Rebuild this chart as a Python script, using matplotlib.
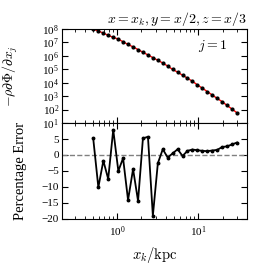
import numpy as np
import matplotlib as mpl
mpl.use('Agg')
from matplotlib import pyplot as plt

mpl.rcParams['font.family'] = 'serif'
mpl.rcParams['font.serif'] = ['Liberation Serif', 'DejaVu Serif']
mpl.rcParams['mathtext.fontset'] = 'cm'

# radius along the line x = x_k (kpc)
x_k = [0.51, 0.59, 0.68, 0.78, 0.90, 1.04, 1.19, 1.37, 1.58, 1.82,
       2.09, 2.41, 2.77, 3.19, 3.67, 4.22, 4.86, 5.59, 6.43, 7.40,
       8.51, 9.80, 11.3, 13.0, 14.9, 17.2, 19.8, 22.7, 26.2, 30.1]

# log10 of -rho dPhi/dx_j
log_force = [8.00, 7.85, 7.70, 7.53, 7.38, 7.25, 7.05, 6.85, 6.67, 6.47,
             6.27, 6.07, 5.87, 5.67, 5.47, 5.24, 4.99, 4.79, 4.56, 4.34,
             4.11, 3.84, 3.59, 3.34, 3.09, 2.83, 2.59, 2.31, 2.04, 1.76]

# percentage error
pct_err = [5.2, -10.1, -1.8, -7.5, 7.9, -5.0, -1.0, -14.1, -4.4, -14.4,
           5.2, 5.7, -19.0, -2.6, 1.8, -0.8, 0.5, 1.8, -0.3, 1.3,
           1.7, 1.5, 1.3, 1.2, 1.4, 1.6, 2.5, 2.7, 3.3, 3.9]


def draw_plot():
    x = np.array(x_k)
    f = 10 ** np.array(log_force)
    fig = plt.figure(figsize=(2.57, 2.74), dpi=100)
    ax1 = fig.add_axes([0.241, 0.551, 0.720, 0.343])
    ax2 = fig.add_axes([0.241, 0.201, 0.720, 0.350], sharex=ax1)

    ax1.plot(x, f, color='red', lw=1.0, zorder=2)
    ax1.plot(x, f, 'o', color='black', ms=2.0, zorder=3)
    ax1.set_xscale('log')
    ax1.set_yscale('log')
    ax1.set_xlim(0.21, 40)
    ax1.set_ylim(10, 1e8)
    ax1.set_yticks([10 ** i for i in range(1, 9)])
    ax1.set_ylabel(r'$-\rho\partial\Phi/\partial x_j$', fontsize=10)
    ax1.yaxis.set_label_coords(-0.225, 0.5)
    ax1.text(0.895, 0.82, r'$j=1$', transform=ax1.transAxes, ha='right',
             va='center', fontsize=10)
    ax1.set_title(r'$x=x_k,y=x/2,z=x/3$', loc='right', fontsize=10, pad=4)
    plt.setp(ax1.get_xticklabels(), visible=False)

    ax2.axhline(0, color='gray', ls='--', lw=1.0)
    ax2.plot(x, pct_err, '-o', color='black', lw=1.3, ms=1.8)
    ax2.set_ylim(-20, 10)
    ax2.set_yticks([-20, -15, -10, -5, 0, 5])
    ax2.set_yticklabels(['\u221220', '\u221215', '\u221210', '\u22125', '0', '5'])
    ax2.set_ylabel('Percentage Error', fontsize=10.5)
    ax2.yaxis.set_label_coords(-0.19, 0.5)
    ax2.set_xlabel(r'$x_k/\mathrm{kpc}$', fontsize=10.5, labelpad=4)

    for ax in (ax1, ax2):
        ax.tick_params(which='both', direction='in', top=True, right=True,
                       labelsize=8, pad=2)
        ax.tick_params(which='major', length=4)
        ax.tick_params(which='minor', length=2)
    ax2.tick_params(axis='x', pad=4)

    fig.savefig('out.png', dpi=100)


if __name__ == '__main__':
    draw_plot()
